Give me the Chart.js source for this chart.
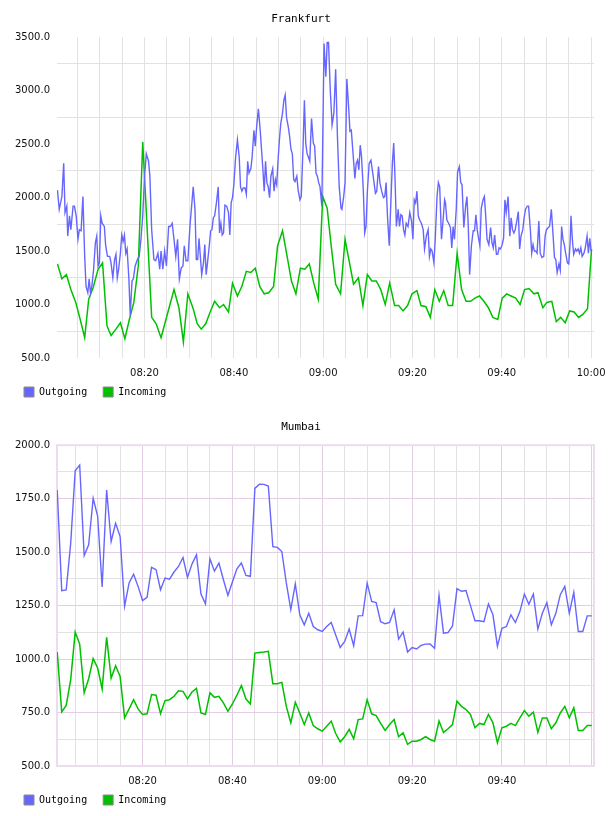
<!DOCTYPE html>
<html><head><meta charset="utf-8">
<script src="https://cdn.jsdelivr.net/npm/chart.js@4.4.1/dist/chart.umd.min.js"></script>
<style>html,body{margin:0;padding:0;background:#fff}.box{position:absolute;left:0;width:608px;height:408px}</style>
</head><body>
<div class="box" style="top:0"><canvas id="c1" width="608" height="408"></canvas></div>
<div class="box" style="top:408px"><canvas id="c2" width="608" height="408"></canvas></div>
<script>
// ---- data (minutes after 08:00, value) ----
const seriesNames = ['Outgoing', 'Incoming'];
const xTicks = [5,10,15,20,25,30,35,40,45,50,55,60,65,70,75,80,85,90,95,100,105,110,115,120];
const frankfurtYTicks = [500,750,1000,1250,1500,1750,2000,2250,2500,2750,3000,3250,3500];
const mumbaiYTicks = [500,625,750,875,1000,1125,1250,1375,1500,1625,1750,1875,2000];

const frankfurtOutgoing = [[0.5,2070],[0.9,1890],[1.5,2010],[1.9,2320],[2.2,1860],[2.6,1920],[2.8,1640],[3.2,1830],[3.5,1700],[4.0,1920],[4.3,1920],[4.7,1830],[5.1,1610],[5.4,1700],[5.8,1690],[6.2,2010],[6.6,1450],[6.9,1170],[7.3,1110],[7.6,1240],[7.9,1110],[8.2,1170],[8.6,1330],[9.0,1580],[9.3,1640],[9.6,1360],[9.9,1390],[10.2,1830],[10.5,1760],[11.0,1730],[11.3,1550],[11.7,1450],[12.2,1450],[12.5,1390],[12.9,1250],[13.3,1420],[13.6,1470],[13.9,1250],[14.2,1330],[14.6,1480],[14.9,1650],[15.2,1590],[15.5,1650],[15.8,1480],[16.1,1520],[16.5,1240],[16.8,900],[17.2,1220],[17.5,1240],[17.9,1360],[18.4,1420],[18.8,1450],[19.2,1610],[19.6,1830],[20.0,2200],[20.4,2410],[20.9,2340],[21.2,2200],[21.6,1700],[22.1,1420],[22.5,1410],[23.0,1480],[23.4,1330],[23.7,1500],[24.1,1330],[24.5,1500],[24.9,1360],[25.4,1730],[25.8,1730],[26.2,1760],[26.6,1610],[27.0,1450],[27.4,1610],[27.8,1240],[28.2,1340],[28.6,1360],[28.9,1550],[29.3,1410],[29.7,1410],[30.2,1750],[30.9,2100],[31.3,1890],[31.6,1420],[31.9,1420],[32.2,1620],[32.5,1450],[32.8,1280],[33.2,1390],[33.5,1560],[33.8,1280],[34.1,1390],[34.5,1550],[34.8,1690],[35.1,1700],[35.4,1810],[35.7,1830],[36.1,1950],[36.5,2100],[36.8,1670],[37.1,1760],[37.4,1650],[37.7,1670],[38.0,1930],[38.4,1920],[38.8,1860],[39.1,1650],[39.4,1950],[39.7,2000],[40.0,2120],[40.4,2380],[40.8,2540],[41.2,2380],[41.5,2100],[41.8,2060],[42.1,2090],[42.5,2090],[42.8,2030],[43.1,2340],[43.4,2230],[43.8,2270],[44.1,2380],[44.5,2630],[44.8,2480],[45.1,2660],[45.5,2830],[45.9,2630],[46.2,2450],[46.5,2270],[46.8,2060],[47.1,2340],[47.4,2140],[47.7,2100],[48.0,2000],[48.3,2200],[48.7,2270],[49.0,2060],[49.3,2170],[49.6,2120],[49.9,2350],[50.2,2540],[50.5,2690],[50.9,2790],[51.2,2910],[51.5,2960],[51.8,2750],[52.2,2660],[52.5,2570],[52.8,2450],[53.1,2410],[53.4,2170],[53.7,2150],[54.1,2200],[54.4,2070],[54.8,1980],[55.1,2010],[55.5,2480],[55.8,2910],[56.1,2510],[56.4,2410],[56.7,2380],[57.0,2340],[57.4,2740],[57.8,2510],[58.1,2480],[58.4,2230],[58.7,2200],[59.0,2140],[59.3,2100],[59.7,1920],[60.2,3440],[60.6,3130],[60.9,3450],[61.2,3450],[61.6,3000],[62.0,2680],[62.4,2790],[62.8,3200],[63.2,2570],[63.6,2100],[64.0,1900],[64.2,1890],[64.6,2010],[64.9,2140],[65.3,3110],[65.7,2850],[66.0,2620],[66.3,2630],[66.7,2410],[67.1,2180],[67.4,2320],[67.7,2350],[68.0,2260],[68.3,2490],[68.6,2380],[69.0,2060],[69.3,1670],[69.6,1730],[69.9,2060],[70.3,2320],[70.7,2350],[71.0,2260],[71.3,2170],[71.7,2040],[72.0,2060],[72.4,2290],[72.7,2140],[73.1,2060],[73.5,2000],[73.8,2010],[74.1,2140],[74.4,1830],[74.8,1550],[75.1,1890],[75.5,2320],[75.8,2510],[76.1,2170],[76.4,1730],[76.8,1890],[77.1,1730],[77.4,1840],[77.7,1830],[78.0,1700],[78.3,1650],[78.6,1760],[79.0,1730],[79.4,1860],[79.8,1780],[80.1,1610],[80.4,1980],[80.7,1950],[81.0,2060],[81.3,1830],[81.6,1790],[82.0,1760],[82.4,1700],[82.7,1520],[83.1,1640],[83.5,1700],[83.8,1450],[84.1,1520],[84.4,1500],[84.8,1390],[85.1,1610],[85.5,2010],[85.8,2140],[86.1,2100],[86.5,1610],[86.8,1760],[87.2,1980],[87.4,1950],[87.7,1790],[88.1,1760],[88.5,1720],[88.8,1530],[89.1,1730],[89.4,1610],[89.8,1890],[90.1,2240],[90.5,2290],[90.8,2140],[91.1,2120],[91.5,1720],[91.9,1920],[92.2,2010],[92.5,1730],[92.8,1280],[93.2,1550],[93.6,1690],[93.9,1690],[94.2,1840],[94.5,1700],[94.8,1620],[95.1,1550],[95.4,1900],[95.8,1980],[96.1,2010],[96.4,1830],[96.7,1610],[97.1,1560],[97.5,1720],[97.8,1580],[98.1,1530],[98.4,1650],[98.8,1470],[99.1,1470],[99.4,1530],[99.7,1520],[100.1,1560],[100.4,1620],[100.7,1980],[101.0,1860],[101.4,2010],[101.8,1640],[102.1,1810],[102.4,1700],[102.7,1670],[103.0,1700],[103.4,1790],[103.7,1870],[104.0,1520],[104.3,1640],[104.7,1700],[105.0,1810],[105.3,1890],[105.7,1920],[106.0,1920],[106.4,1700],[106.7,1480],[107.0,1560],[107.3,1500],[107.6,1500],[107.9,1480],[108.3,1780],[108.6,1480],[109.0,1440],[109.4,1450],[109.7,1640],[110.0,1700],[110.4,1720],[110.7,1730],[111.1,1890],[111.5,1640],[111.8,1440],[112.1,1420],[112.4,1300],[112.8,1380],[113.1,1320],[113.4,1730],[113.7,1610],[114.0,1560],[114.3,1480],[114.7,1390],[115.0,1380],[115.3,1580],[115.5,1830],[115.8,1610],[116.1,1470],[116.5,1520],[116.8,1500],[117.1,1520],[117.4,1480],[117.7,1530],[118.0,1450],[118.4,1480],[118.7,1530],[119.1,1640],[119.4,1480],[119.7,1620],[120.0,1500]];

const frankfurtIncoming = [[0.5,1380],[1.5,1240],[2.5,1280],[3.5,1140],[4.6,1020],[5.6,860],[6.6,690],[7.5,1050],[8.5,1160],[9.6,1330],[10.6,1390],[11.6,800],[12.5,710],[13.6,770],[14.6,830],[15.6,680],[16.6,860],[17.6,1020],[18.6,1360],[19.6,2520],[21.6,880],[22.6,820],[23.7,690],[24.6,830],[25.7,1000],[26.6,1140],[27.7,970],[28.7,650],[29.7,1100],[30.9,960],[31.8,820],[32.7,770],[33.7,820],[34.7,930],[35.7,1030],[36.8,970],[37.7,1000],[38.8,930],[39.7,1200],[40.8,1080],[41.8,1170],[42.8,1310],[43.8,1300],[44.8,1340],[45.8,1170],[46.8,1100],[47.8,1110],[48.9,1170],[49.8,1550],[50.9,1690],[51.8,1480],[52.9,1220],[53.9,1100],[54.9,1340],[55.9,1330],[56.9,1380],[57.9,1200],[58.9,1050],[59.9,2010],[60.9,1900],[61.8,1550],[62.8,1190],[63.9,1100],[64.9,1610],[65.9,1390],[66.8,1190],[67.9,1250],[68.9,990],[69.9,1280],[70.9,1220],[71.9,1220],[72.9,1140],[73.9,1000],[74.9,1200],[76.0,990],[76.9,990],[77.9,940],[78.9,990],[79.9,1100],[81.0,1130],[81.9,990],[83.0,980],[84.0,880],[85.0,1140],[86.0,1030],[87.0,1130],[88.0,990],[89.0,990],[90.0,1480],[91.0,1140],[92.0,1030],[93.0,1030],[94.0,1060],[95.0,1080],[96.0,1030],[97.0,970],[98.0,880],[99.1,860],[100.1,1060],[101.1,1100],[102.1,1080],[103.1,1060],[104.1,1000],[105.1,1140],[106.1,1150],[107.2,1100],[108.1,1110],[109.2,970],[110.1,1020],[111.2,1030],[112.2,840],[113.2,880],[114.2,830],[115.2,940],[116.2,930],[117.2,880],[118.2,910],[119.2,960],[120.1,1520]];

// Mumbai: one sample per minute, minutes 1..120 after 08:00
const mumbaiMinutes = Array.from({length: 120}, (_, i) => i + 1);
const mumbaiOutgoing = [1790,1320,1323,1542,1880,1907,1484,1534,1752,1669,
1337,1790,1550,1635,1573,1247,1356,1397,1340,1273,
1289,1429,1418,1324,1379,1374,1407,1433,1475,1382,
1444,1488,1304,1258,1469,1411,1449,1371,1298,1360,
1422,1449,1391,1387,1798,1818,1817,1809,1526,1522,
1503,1356,1231,1351,1207,1160,1214,1152,1137,1129,
1152,1171,1113,1054,1082,1140,1062,1202,1203,1355,
1269,1264,1175,1165,1171,1230,1093,1126,1033,1054,
1047,1064,1070,1071,1051,1298,1121,1124,1155,1329,
1317,1320,1250,1179,1179,1175,1258,1207,1059,1144,
1152,1207,1171,1222,1304,1256,1304,1140,1214,1264,
1160,1214,1301,1340,1214,1312,1129,1129,1202,1202];
const mumbaiIncoming = [1033,753,783,904,1126,1070,842,908,1002,958,
860,1102,911,969,919,725,767,810,767,741,
744,834,831,745,806,810,826,852,849,814,
846,863,748,741,842,821,826,795,756,790,
831,876,814,790,1028,1031,1033,1036,885,885,
891,779,702,798,748,694,748,689,674,663,
686,710,652,613,637,671,627,717,720,810,
744,736,699,666,694,717,637,655,601,616,
616,624,637,624,616,710,657,674,694,803,
779,764,741,679,699,694,741,702,609,679,
686,699,689,725,759,733,752,657,725,725,
674,702,748,779,725,772,666,666,689,689];

// ---- styling ----
const BLUE = '#6666ff', GREEN = '#00c000';
const GRID = '#e2e2e2', PINK = '#e4cbe6';
const tickFont = {family: 'DejaVu Sans', size: 10};

function hhmm(m) {
  const h = 8 + Math.floor(m / 60), mm = m % 60;
  return String(h).padStart(2, '0') + ':' + String(mm).padStart(2, '0');
}
const toXY = arr => arr.map(p => ({x: p[0], y: p[1]}));

const framePlugin = {
  id: 'frame',
  beforeDatasetsDraw(chart, args, opts) {
    if (!opts || !opts.color) return;
    const {left, top, right, bottom} = chart.chartArea;
    const ctx = chart.ctx;
    ctx.save();
    ctx.strokeStyle = opts.color;
    ctx.lineWidth = opts.width || 1;
    ctx.strokeRect(left, top, right - left, bottom - top);
    ctx.restore();
  }
};
// lift the legend a little so it sits just under the time labels
const legendLift = {
  id: 'legendLift',
  afterLayout(chart) {
    const lg = chart.legend;
    if (lg) { lg.top -= 8; lg.bottom -= 8; }
  }
};

function makeChart(canvasId, title, outData, inData, cfg) {
  return new Chart(document.getElementById(canvasId), {
    type: 'line',
    data: {
      datasets: [
        {label: seriesNames[0], data: outData, borderColor: BLUE, backgroundColor: BLUE, borderWidth: 1.4, pointRadius: 0, tension: 0, fill: false},
        {label: seriesNames[1], data: inData, borderColor: GREEN, backgroundColor: GREEN, borderWidth: 1.5, pointRadius: 0, tension: 0, fill: false}
      ]
    },
    plugins: [framePlugin, legendLift],
    options: {
      responsive: false,
      animation: false,
      devicePixelRatio: 1,
      layout: {padding: {left: 8, right: 14, top: 0, bottom: 0}},
      plugins: {
        frame: cfg.frame,
        tooltip: {enabled: false},
        title: {
          display: true, text: title, color: '#000',
          font: {family: 'DejaVu Sans Mono', size: 11, weight: 'normal'},
          padding: {top: 13, bottom: 11}
        },
        legend: {
          position: 'bottom', align: 'start', maxHeight: 29,
          labels: {
            boxWidth: 10, boxHeight: 10, padding: 16, color: '#000',
            font: {family: 'DejaVu Sans Mono', size: 10},
            generateLabels: chart => chart.data.datasets.map((ds, i) => ({
              text: ds.label, fillStyle: ds.borderColor, strokeStyle: '#8a8a8a',
              lineWidth: 1, hidden: false, datasetIndex: i, fontColor: '#000'
            }))
          }
        }
      },
      scales: {
        x: {
          type: 'linear', min: cfg.xMin, max: cfg.xMax,
          afterBuildTicks: ax => { ax.ticks = xTicks.map(v => ({value: v})); },
          afterFit: ax => { ax.height = 21; ax.paddingLeft = 0; ax.paddingRight = 0; },
          border: {display: false},
          grid: {drawTicks: false, color: cfg.xGrid, lineWidth: 1},
          ticks: {
            padding: 9, autoSkip: false, maxRotation: 0, minRotation: 0,
            font: tickFont, color: '#111',
            callback: v => (v % 20 === 0 && v <= cfg.lastLabel) ? hhmm(v) : ''
          }
        },
        y: {
          min: cfg.yMin, max: cfg.yMax,
          afterBuildTicks: ax => { ax.ticks = cfg.yTicks.map(v => ({value: v})); },
          afterFit: ax => { ax.width = 49; ax.paddingTop = 0; ax.paddingBottom = 0; },
          border: {display: false},
          grid: {drawTicks: false, color: cfg.yGrid, lineWidth: 1},
          ticks: {
            padding: 7, font: tickFont, color: '#111',
            callback: v => (v % cfg.labelStep === 0) ? v.toFixed(1) : ''
          }
        }
      }
    }
  });
}

makeChart('c1', 'Frankfurt', toXY(frankfurtOutgoing), toXY(frankfurtIncoming), {
  xMin: 0.4, xMax: 120.65, yMin: 500, yMax: 3500, yTicks: frankfurtYTicks,
  labelStep: 500, lastLabel: 120,
  xGrid: GRID,
  yGrid: ctx => (ctx.tick && ctx.tick.value % 500 !== 0) ? GRID : 'rgba(0,0,0,0)',
  frame: {}
});

makeChart('c2', 'Mumbai',
  mumbaiMinutes.map((m, i) => ({x: m, y: mumbaiOutgoing[i]})),
  mumbaiMinutes.map((m, i) => ({x: m, y: mumbaiIncoming[i]})), {
  xMin: 0.95, xMax: 120.5, yMin: 500, yMax: 2000, yTicks: mumbaiYTicks,
  labelStep: 250, lastLabel: 100,
  xGrid: ctx => (ctx.tick && ctx.tick.value % 20 === 0) ? PINK : GRID,
  yGrid: ctx => (ctx.tick && ctx.tick.value % 250 === 0) ? PINK : GRID,
  frame: {color: '#ecdcee', width: 2}
});
</script>
</body></html>
